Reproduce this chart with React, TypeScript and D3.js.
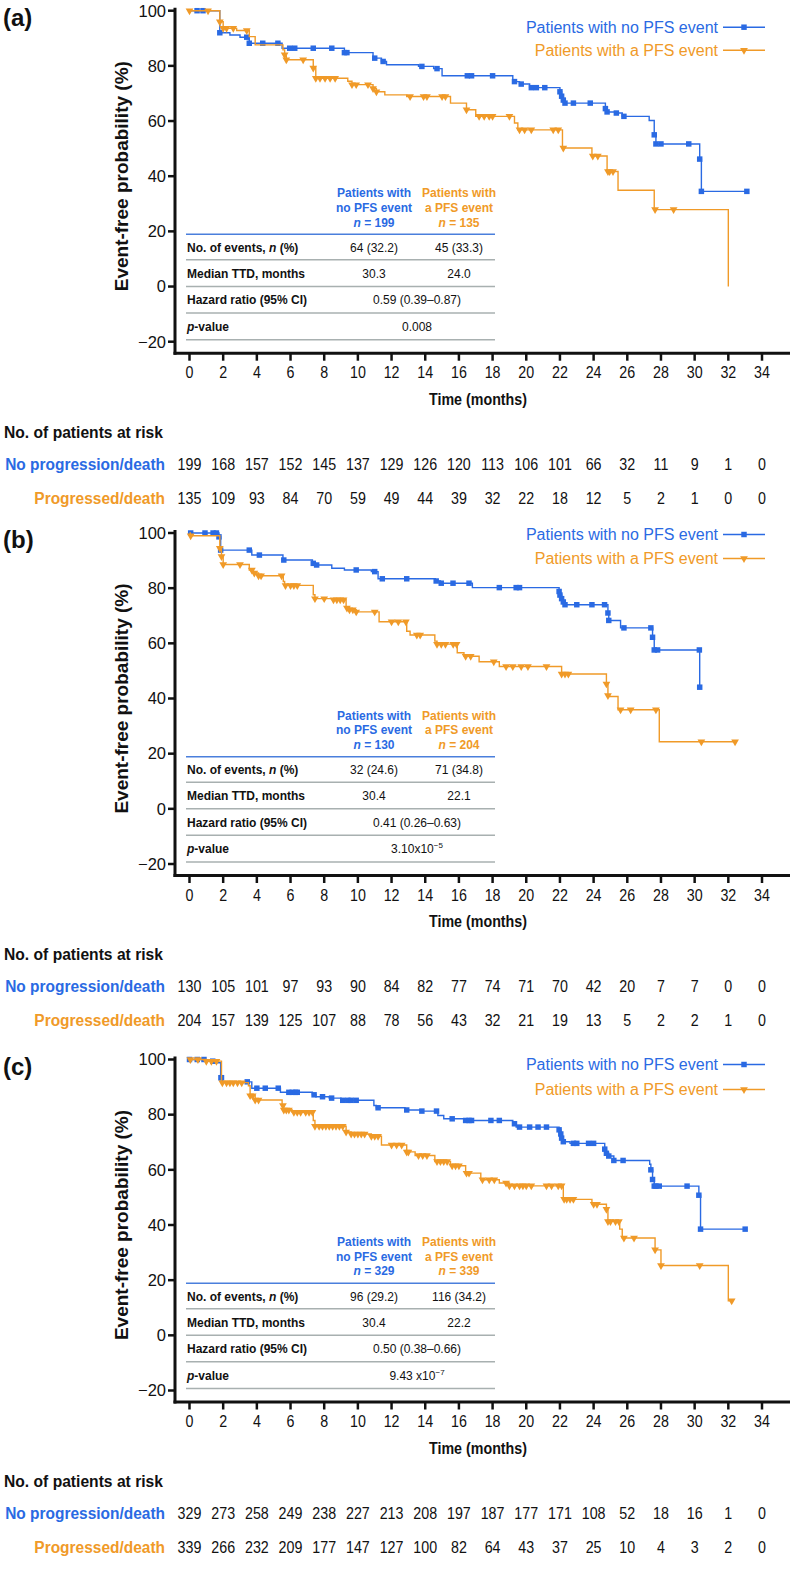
import React from "react";
import * as d3 from "d3";

const BLUE = "#2a6ae3";
const ORANGE = "#f09a28";
const FONT = "'Liberation Sans', Arial, sans-serif";

const monthTicks = [0, 2, 4, 6, 8, 10, 12, 14, 16, 18, 20, 22, 24, 26, 28, 30, 32, 34];
const yTicks = [100, 80, 60, 40, 20, 0, -20];

// ---------- panel (a) ----------
const aBlueSteps = [[0, 100], [1.8, 92], [2.4, 91.2], [3.0, 90.4], [3.55, 88.2], [5.5, 86.4], [9.2, 84.8], [10.9, 82.8], [11.4, 81.6], [11.7, 80.4], [13.6, 79.8], [14.5, 79.0], [15.0, 76.4], [19.2, 74.3], [19.6, 73.4], [20.2, 72.1], [22.0, 70.6], [22.1, 69], [22.2, 67.6], [22.3, 66.5], [24.7, 64.5], [24.8, 63.3], [25.3, 62.9], [25.7, 61.7], [27.3, 60.2], [27.6, 55], [27.7, 51.7], [30.3, 46.2], [30.4, 34.5]];
const aBlueCens = [0.45, 0.8, 1.8, 3.4, 3.55, 4.35, 5.25, 5.95, 6.25, 7.35, 8.45, 9.2, 9.35, 11.0, 11.5, 13.8, 14.7, 16.5, 16.75, 18.0, 19.3, 19.7, 20.3, 20.6, 21.1, 22.0, 22.1, 22.2, 22.3, 22.8, 23.8, 24.7, 24.8, 25.35, 25.8, 27.6, 27.7, 28.0, 29.65, 30.3, 30.4, 33.1];
const aOrangeSteps = [[0, 100], [1.8, 96], [2.0, 93.6], [2.8, 92.8], [3.55, 90.6], [3.9, 87.6], [5.55, 85.8], [5.65, 84], [5.75, 82.2], [7.35, 79.2], [7.5, 75.5], [9.4, 74.4], [9.65, 73.2], [10.9, 71.8], [11.1, 70.6], [11.6, 69.5], [12.9, 68.9], [15.5, 66.5], [16.45, 64.1], [17.0, 61.7], [19.3, 59.3], [19.5, 56.8], [22.15, 50.2], [23.9, 47.3], [24.8, 41.7], [25.45, 34.9], [27.6, 27.9], [32.0, 0]];
const aOrangeCens = [0, 1.1, 1.8, 2.0, 2.2, 2.6, 3.4, 5.65, 5.75, 6.75, 7.35, 7.5, 7.75, 8.05, 8.35, 8.65, 9.65, 9.9, 10.6, 10.9, 11.1, 13.1, 13.9, 14.1, 15.0, 15.2, 16.45, 17.2, 17.5, 17.8, 18.0, 19.0, 19.6, 19.9, 20.3, 21.6, 21.9, 22.2, 23.95, 24.25, 24.85, 24.95, 25.15, 27.65, 28.75];
const aRiskBlue = [199, 168, 157, 152, 145, 137, 129, 126, 120, 113, 106, 101, 66, 32, 11, 9, 1, 0];
const aRiskOrange = [135, 109, 93, 84, 70, 59, 49, 44, 39, 32, 22, 18, 12, 5, 2, 1, 0, 0];

// ---------- panel (b) ----------
const bBlueSteps = [[0, 100], [1.75, 98.6], [1.85, 93.8], [3.7, 92.0], [5.55, 90.2], [7.3, 89.0], [7.5, 88.4], [8.45, 87.2], [9.2, 86.6], [10.8, 86.0], [11.2, 83.4], [14.6, 82.6], [14.9, 81.8], [16.8, 80.2], [21.95, 78.8], [22.0, 77.5], [22.1, 76.2], [22.2, 75.0], [22.3, 74.0], [24.85, 71.0], [24.9, 68.3], [25.6, 65.6], [27.5, 62.2], [27.6, 57.6], [30.3, 44.1]];
const bBlueCens = [0.07, 0.92, 1.4, 1.6, 1.75, 1.85, 3.55, 4.15, 5.6, 7.35, 7.55, 9.9, 11.0, 11.45, 12.9, 14.65, 14.95, 15.65, 16.6, 18.4, 19.4, 19.6, 21.95, 22.0, 22.1, 22.2, 22.3, 23.0, 23.9, 24.65, 24.85, 24.9, 25.8, 27.4, 27.5, 27.6, 27.8, 30.28, 30.3];
const bOrangeSteps = [[0, 100], [0.05, 99], [1.8, 94.5], [1.9, 91.5], [2.0, 88.6], [3.55, 86.6], [3.8, 85.5], [4.1, 84.5], [5.57, 82.4], [5.65, 81], [7.35, 77.6], [7.45, 76.2], [8.5, 75.8], [9.3, 72.8], [9.5, 72.2], [9.9, 71.4], [11.26, 67.8], [12.9, 64.4], [13.1, 63], [14.57, 60.8], [14.7, 59.7], [15.9, 56.6], [16.3, 55.3], [17.2, 53.3], [18.4, 51.6], [22.1, 48.9], [24.76, 45.3], [24.85, 41.1], [24.95, 40.7], [25.45, 35.9], [27.9, 24.3]];
const bOrangeCens = [0.07, 1.8, 1.9, 2.0, 3.0, 3.7, 3.85, 4.1, 4.25, 5.47, 5.7, 6.0, 6.2, 6.4, 7.45, 8.0, 8.55, 8.75, 8.95, 9.15, 9.35, 9.5, 9.7, 9.9, 11.0, 12.0, 12.4, 12.85, 13.5, 13.7, 14.7, 14.95, 15.2, 15.66, 15.86, 16.4, 16.7, 18.07, 18.8, 19.2, 19.7, 20.1, 21.2, 22.1, 22.3, 22.5, 24.76, 24.85, 25.6, 26.2, 27.7, 30.4, 32.4];
const bRiskBlue = [130, 105, 101, 97, 93, 90, 84, 82, 77, 74, 71, 70, 42, 20, 7, 7, 0, 0];
const bRiskOrange = [204, 157, 139, 125, 107, 88, 78, 56, 43, 32, 21, 19, 13, 5, 2, 2, 1, 0];

// ---------- panel (c) ----------
const cBlueSteps = [[0, 100], [0.9, 99.4], [1.4, 98.8], [1.85, 93.4], [1.95, 91.9], [3.7, 89.6], [5.4, 88.1], [7.3, 87.2], [7.5, 86.5], [8.3, 86.0], [9.0, 85.2], [10.95, 83.3], [11.1, 82.5], [12.8, 81.7], [13.7, 81.3], [14.75, 79.7], [15.1, 78.5], [16.3, 77.9], [19.2, 76.7], [19.4, 75.5], [21.95, 74.5], [22.05, 73], [22.1, 71.5], [22.2, 70.2], [22.6, 69.6], [24.66, 67.5], [24.76, 66], [24.9, 65], [25.2, 63.4], [27.33, 62], [27.4, 60], [27.5, 56.5], [27.6, 54.1], [30.25, 50.8], [30.35, 38.5]];
const cBlueCens = [0, 0.46, 0.86, 1.38, 1.87, 1.9, 3.43, 4.0, 4.5, 5.27, 5.9, 6.1, 6.3, 6.4, 7.4, 7.9, 8.44, 9.1, 9.4, 9.6, 9.9, 11.2, 12.9, 13.8, 14.67, 15.6, 16.4, 16.6, 16.75, 17.9, 18.4, 19.3, 19.6, 20.2, 20.7, 21.2, 21.95, 22.05, 22.1, 22.2, 22.8, 23.0, 23.7, 24.0, 24.66, 24.76, 24.9, 25.2, 25.75, 27.4, 27.5, 27.6, 27.7, 27.9, 29.55, 30.25, 30.35, 33.0];
const cOrangeSteps = [[0, 100], [1.0, 99.4], [1.9, 91.6], [3.5, 90.5], [3.6, 86.9], [3.9, 85.3], [5.5, 83.3], [5.6, 81.7], [6.1, 80.9], [7.35, 77.9], [7.45, 75.8], [9.3, 73.7], [9.6, 73.0], [10.8, 72.2], [11.4, 69], [12.9, 66.5], [13.4, 65.2], [14.57, 63], [15.5, 61.5], [16.4, 58.8], [17.3, 56.4], [18.4, 55.2], [19.0, 54.2], [22.2, 49.3], [23.9, 47.5], [24.76, 45.7], [24.85, 41.3], [25.55, 38.5], [25.7, 35.3], [27.65, 31], [28.0, 25.3], [32.0, 12.5]];
const cOrangeCens = [0.05, 0.5, 1.0, 1.3, 1.6, 1.95, 2.2, 2.4, 2.6, 2.85, 3.1, 3.6, 3.75, 3.9, 4.1, 5.55, 5.6, 5.75, 5.9, 6.2, 6.4, 6.6, 6.9, 7.1, 7.3, 7.45, 7.7, 7.9, 8.1, 8.3, 8.5, 8.7, 8.9, 9.1, 9.3, 9.6, 9.8, 10.0, 10.2, 10.4, 10.8, 11.0, 11.2, 12.0, 12.3, 12.6, 12.9, 13.0, 13.6, 13.85, 14.1, 14.7, 14.9, 15.1, 15.3, 15.6, 15.8, 16.0, 16.45, 16.6, 17.4, 17.8, 18.1, 18.8, 19.0, 19.3, 19.6, 19.8, 20.0, 20.3, 21.2, 21.5, 21.9, 22.1, 22.25, 22.4, 22.6, 22.8, 24.0, 24.2, 24.76, 24.85, 25.0, 25.3, 25.5, 25.8, 26.4, 27.65, 28.0, 30.3, 32.2];
const cRiskBlue = [329, 273, 258, 249, 238, 227, 213, 208, 197, 187, 177, 171, 108, 52, 18, 16, 1, 0];
const cRiskOrange = [339, 266, 232, 209, 177, 147, 127, 100, 82, 64, 43, 37, 25, 10, 4, 3, 2, 0];

const panels = [
  {
    label: "(a)", top: 10.7, legendY: 22, legendGap: 23,
    blue: { steps: aBlueSteps, cens: aBlueCens, end: 33.1 },
    orange: { steps: aOrangeSteps, cens: aOrangeCens, end: 32.0 },
    riskBlue: aRiskBlue, riskOrange: aRiskOrange,
    nBlue: 199, nOrange: 135,
    events: ["64 (32.2)", "45 (33.3)"], median: ["30.3", "24.0"],
    hr: "0.59 (0.39–0.87)", p: "0.008", pExp: "",
  },
  {
    label: "(b)", top: 533, legendY: 7, legendGap: 24,
    blue: { steps: bBlueSteps, cens: bBlueCens, end: 30.3 },
    orange: { steps: bOrangeSteps, cens: bOrangeCens, end: 32.4 },
    riskBlue: bRiskBlue, riskOrange: bRiskOrange,
    nBlue: 130, nOrange: 204,
    events: ["32 (24.6)", "71 (34.8)"], median: ["30.4", "22.1"],
    hr: "0.41 (0.26–0.63)", p: "3.10x10", pExp: "−5",
  },
  {
    label: "(c)", top: 1059.5, legendY: 10.5, legendGap: 25,
    blue: { steps: cBlueSteps, cens: cBlueCens, end: 33.0 },
    orange: { steps: cOrangeSteps, cens: cOrangeCens, end: 32.2 },
    riskBlue: cRiskBlue, riskOrange: cRiskOrange,
    nBlue: 329, nOrange: 339,
    events: ["96 (29.2)", "116 (34.2)"], median: ["30.4", "22.2"],
    hr: "0.50 (0.38–0.66)", p: "9.43 x10", pExp: "−7",
  },
];

const stepAt = (steps, t) => {
  let v = steps[0][1];
  for (const [st, sv] of steps) {
    if (st <= t + 1e-9) v = sv;
    else break;
  }
  return v;
};

const square = d3.symbol().type(d3.symbolSquare).size(30)();
const triangle = d3.symbol().type(d3.symbolTriangle).size(26)();

const Marker = ({ kind, x, y, color }) =>
  kind === "square" ? (
    <path d={square} transform={`translate(${x},${y})`} fill={color} />
  ) : (
    <path d={triangle} transform={`translate(${x},${y}) rotate(180)`} fill={color} />
  );

// narrow text (Arial Narrow look)
const NText = ({ x, y, anchor = "middle", weight = "normal", size = 17, fill = "#111", sx = 0.84, children }) => (
  <text
    transform={`translate(${x},${y}) scale(${sx},1)`}
    textAnchor={anchor}
    fontWeight={weight}
    fontSize={size}
    fill={fill}
    fontFamily={FONT}
  >
    {children}
  </text>
);

function Panel({ cfg }) {
  const T = cfg.top;
  const x = d3.scaleLinear().domain([0, 34]).range([189.5, 762]);
  const y = d3.scaleLinear().domain([-20, 100]).range([T + 331, T]);
  const axisY = T + 342.5;
  const axisX = 175;

  const line = d3
    .line()
    .x((d) => x(d[0]))
    .y((d) => y(d[1]))
    .curve(d3.curveStepAfter);

  const series = [
    { ...cfg.blue, color: BLUE, kind: "square" },
    { ...cfg.orange, color: ORANGE, kind: "triangle" },
  ];

  // table geometry, anchored to the 20% gridline
  const y20 = y(20);
  const tL = 186, tR = 495, c1 = 374, c2 = 459, cm = 417;
  const rowY = [20.5, 46.5, 73, 99.5].map((d) => y20 + d);
  const sepY = [28.5, 55.2, 81.7, 108.3].map((d) => y20 + d);
  const fs = 12;

  return (
    <g>
      <text x={3} y={T + 15} fontFamily={FONT} fontWeight="bold" fontSize={24} fill="#111">
        {cfg.label}
      </text>

      {/* y axis */}
      <line x1={axisX} x2={axisX} y1={T - 3} y2={axisY + 1.5} stroke="#111" strokeWidth={3} />
      {yTicks.map((v) => (
        <g key={v}>
          <line x1={axisX - 7} x2={axisX} y1={y(v)} y2={y(v)} stroke="#111" strokeWidth={2.5} />
          <text x={axisX - 9} y={y(v) + 5.8} textAnchor="end" fontFamily={FONT} fontSize={16.5} fill="#111">
            {v < 0 ? `−${-v}` : v}
          </text>
        </g>
      ))}
      <text
        transform={`translate(${128},${y(40)}) rotate(-90)`}
        textAnchor="middle"
        fontFamily={FONT}
        fontWeight="bold"
        fontSize={19}
        fill="#111"
      >
        Event-free probability (%)
      </text>

      {/* x axis */}
      <line x1={axisX - 1.5} x2={790} y1={axisY} y2={axisY} stroke="#111" strokeWidth={3} />
      {monthTicks.map((t) => (
        <g key={t}>
          <line x1={x(t)} x2={x(t)} y1={axisY} y2={axisY + 7.5} stroke="#111" strokeWidth={2.5} />
          <NText x={x(t)} y={T + 367.5}>{t}</NText>
        </g>
      ))}
      <NText x={478} y={T + 394} weight="bold" sx={0.84}>Time (months)</NText>

      {/* table */}
      <g fontFamily={FONT} fontSize={fs}>
        {[
          ["Patients with", "no PFS event", cfg.nBlue, c1, BLUE],
          ["Patients with", "a PFS event", cfg.nOrange, c2, ORANGE],
        ].map(([l1, l2, n, cx, col]) => (
          <g key={l2} fill={col} fontWeight="bold" textAnchor="middle">
            <text x={cx} y={y20 - 34}>{l1}</text>
            <text x={cx} y={y20 - 19.3}>{l2}</text>
            <text x={cx} y={y20 - 4.7}>
              <tspan fontStyle="italic">n</tspan> = {n}
            </text>
          </g>
        ))}
        <line x1={tL} x2={tR} y1={y20 + 3} y2={y20 + 3} stroke="#4a7fdc" strokeWidth={1.5} />
        {sepY.map((sy, i) => (
          <line key={i} x1={tL} x2={tR} y1={sy} y2={sy} stroke="#a8b0b0" strokeWidth={1.5} />
        ))}
        <g fontWeight="bold" fill="#111">
          <text x={tL + 1} y={rowY[0]}>
            No. of events, <tspan fontStyle="italic">n</tspan> (%)
          </text>
          <text x={tL + 1} y={rowY[1]}>Median TTD, months</text>
          <text x={tL + 1} y={rowY[2]}>Hazard ratio (95% CI)</text>
          <text x={tL + 1} y={rowY[3]}>
            <tspan fontStyle="italic">p</tspan>-value
          </text>
        </g>
        <g fill="#111" textAnchor="middle">
          <text x={c1} y={rowY[0]}>{cfg.events[0]}</text>
          <text x={c2} y={rowY[0]}>{cfg.events[1]}</text>
          <text x={c1} y={rowY[1]}>{cfg.median[0]}</text>
          <text x={c2} y={rowY[1]}>{cfg.median[1]}</text>
          <text x={cm} y={rowY[2]}>{cfg.hr}</text>
          <text x={cm} y={rowY[3]}>
            {cfg.p}
            {cfg.pExp && (
              <tspan dy={-5} fontSize={8}>
                {cfg.pExp}
              </tspan>
            )}
          </text>
        </g>
      </g>

      {/* curves */}
      {series.map((s) => {
        const last = s.steps[s.steps.length - 1];
        const pts = [...s.steps, [s.end, last[1]]];
        return (
          <g key={s.kind}>
            <path d={line(pts)} fill="none" stroke={s.color} strokeWidth={1.4} />
            {s.cens.map((t, i) => (
              <Marker key={i} kind={s.kind} x={x(t)} y={y(stepAt(s.steps, t))} color={s.color} />
            ))}
          </g>
        );
      })}

      {/* legend */}
      {[
        ["Patients with no PFS event", BLUE, "square"],
        ["Patients with a PFS event", ORANGE, "triangle"],
      ].map(([txt, col, kind], i) => {
        const ly = T + cfg.legendY + i * cfg.legendGap;
        return (
          <g key={txt}>
            <text x={718} y={ly} textAnchor="end" fontFamily={FONT} fontSize={16} fill={col}>
              {txt}
            </text>
            <line x1={723} x2={765} y1={ly - 5.5} y2={ly - 5.5} stroke={col} strokeWidth={1.6} />
            <Marker kind={kind} x={744} y={ly - 5.5} color={col} />
          </g>
        );
      })}

      {/* number at risk */}
      <NText x={4} y={T + 427} anchor="start" weight="bold" sx={0.92}>No. of patients at risk</NText>
      <NText x={165} y={T + 459} anchor="end" weight="bold" fill={BLUE} sx={0.91}>No progression/death</NText>
      <NText x={165} y={T + 493} anchor="end" weight="bold" fill={ORANGE} sx={0.91}>Progressed/death</NText>
      {monthTicks.map((t, i) => (
        <g key={t}>
          <NText x={x(t)} y={T + 459}>{cfg.riskBlue[i]}</NText>
          <NText x={x(t)} y={T + 493}>{cfg.riskOrange[i]}</NText>
        </g>
      ))}
    </g>
  );
}

export default function App() {
  return (
    <svg
      width={792}
      height={1594}
      viewBox="0 0 792 1594"
      style={{ position: "absolute", left: 0, top: 0, background: "#fff" }}
    >
      <rect width={792} height={1594} fill="#fff" />
      {panels.map((p) => (
        <Panel key={p.label} cfg={p} />
      ))}
    </svg>
  );
}
